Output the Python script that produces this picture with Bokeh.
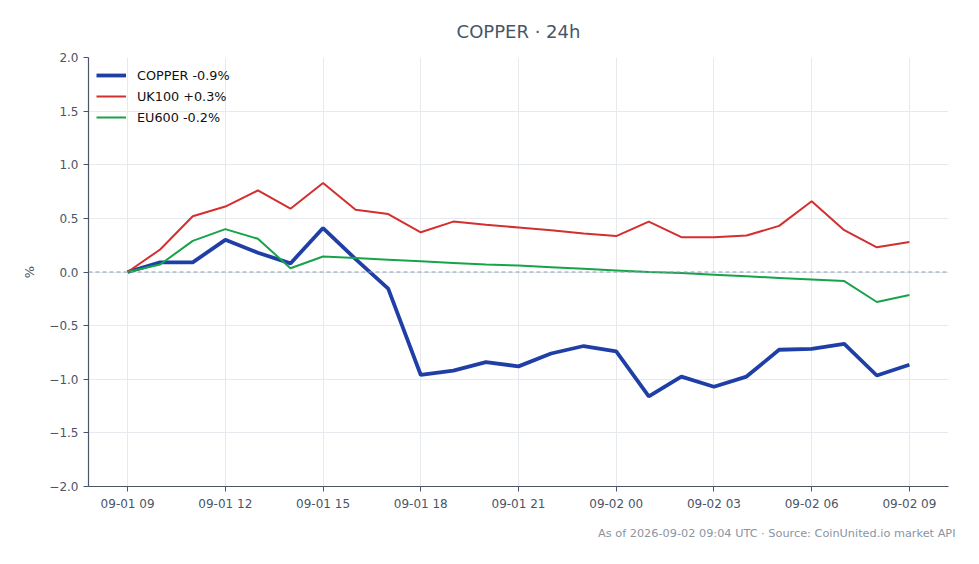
from bokeh.plotting import figure
from bokeh.models import (FixedTicker, Span, Title, Legend, LegendItem, Range1d)
from bokeh.embed import file_html
from bokeh.resources import INLINE

# ---- data ----
hours = list(range(25))
tick_hours = [0, 3, 6, 9, 12, 15, 18, 21, 24]
tick_labels = ["09-01 09", "09-01 12", "09-01 15", "09-01 18", "09-01 21",
               "09-02 00", "09-02 03", "09-02 06", "09-02 09"]
y_ticks = [-2.0, -1.5, -1.0, -0.5, 0.0, 0.5, 1.0, 1.5, 2.0]
y_tick_labels = ["\u22122.0", "\u22121.5", "\u22121.0", "\u22120.5", "0.0", "0.5", "1.0", "1.5", "2.0"]

copper = [0.00, 0.09, 0.09, 0.30, 0.18, 0.08, 0.41, 0.12, -0.155, -0.96,
          -0.92, -0.84, -0.88, -0.76, -0.69, -0.74, -1.16, -0.975, -1.07,
          -0.975, -0.725, -0.716, -0.67, -0.965, -0.865]
uk100 = [0.00, 0.21, 0.52, 0.61, 0.76, 0.59, 0.83, 0.58, 0.54, 0.37,
         0.47, 0.44, 0.415, 0.39, 0.36, 0.335, 0.47, 0.325, 0.325, 0.34,
         0.43, 0.66, 0.39, 0.23, 0.28]
eu600 = [0.00, 0.07, 0.29, 0.40, 0.31, 0.035, 0.145, 0.13, 0.115, 0.10,
         0.085, 0.07, 0.06, 0.045, 0.03, 0.015, 0.0, -0.01, -0.025, -0.04,
         -0.055, -0.07, -0.085, -0.28, -0.215]

series_names = ["COPPER -0.9%", "UK100 +0.3%", "EU600 -0.2%"]
title_text = "COPPER \u00b7 24h"
footnote = "As of 2026-09-02 09:04 UTC \u00b7 Source: CoinUnited.io market API"

FONT = "DejaVu Sans"
AX = "#4a5568"

p = figure(width=970, height=556, output_backend="svg", toolbar_location=None,
           x_range=Range1d(-1.2, 25.2), y_range=Range1d(-2.0, 2.0),
           min_border_left=88, min_border_right=22, min_border_top=57,
           min_border_bottom=70)
p.outline_line_color = None
p.background_fill_color = "white"

p.title.text = title_text
p.title.align = "center"
p.title.text_font = FONT
p.title.text_font_size = "18px"
p.title.text_font_style = "normal"
p.title.text_color = AX
p.title.standoff = 31

p.add_layout(Title(text=footnote, align="right", text_font=FONT,
                   text_font_size="11.3px", text_font_style="normal",
                   text_color="#8a94a3", standoff=23, offset=-7), "below")

# axes
p.xaxis.ticker = FixedTicker(ticks=tick_hours)
p.xaxis.major_label_overrides = {h: l for h, l in zip(tick_hours, tick_labels)}
p.yaxis.ticker = FixedTicker(ticks=y_ticks)
p.yaxis.major_label_overrides = {v: l for v, l in zip(y_ticks, y_tick_labels)}
p.yaxis.axis_label = "%"
p.yaxis.axis_label_standoff = 9
for ax in (p.xaxis[0], p.yaxis[0]):
    ax.axis_line_color = AX
    ax.axis_line_width = 1.2
    ax.major_tick_line_color = AX
    ax.major_tick_in = 0
    ax.major_tick_out = 5
    ax.minor_tick_line_color = None
    ax.major_label_text_font = FONT
    ax.major_label_text_font_size = "12px"
    ax.major_label_text_color = AX
    ax.axis_label_text_font = FONT
    ax.axis_label_text_font_size = "13px"
    ax.axis_label_text_font_style = "normal"
    ax.axis_label_text_color = AX

p.grid.grid_line_color = "#e6e9ee"
p.grid.grid_line_width = 1

p.add_layout(Span(location=0, dimension="width", line_color="#8d9ab3",
                  line_width=1, line_dash="4 3"))

r1 = p.line(hours, copper, line_color="#1f3fa6", line_width=3.8)
r2 = p.line(hours, uk100, line_color="#d32f2f", line_width=2)
r3 = p.line(hours, eu600, line_color="#17a34a", line_width=2)

legend = Legend(items=[LegendItem(label=series_names[0], renderers=[r1]),
                       LegendItem(label=series_names[1], renderers=[r2]),
                       LegendItem(label=series_names[2], renderers=[r3])],
                location="top_left")
legend.border_line_color = None
legend.background_fill_alpha = 0.0
legend.label_text_font = FONT
legend.label_text_font_size = "12.8px"
legend.label_text_color = "#111111"
legend.glyph_width = 30
legend.label_standoff = 11
legend.spacing = 1
legend.margin = 8
legend.padding = 10
p.add_layout(legend)

open("out.html", "w").write(file_html(p, INLINE))
